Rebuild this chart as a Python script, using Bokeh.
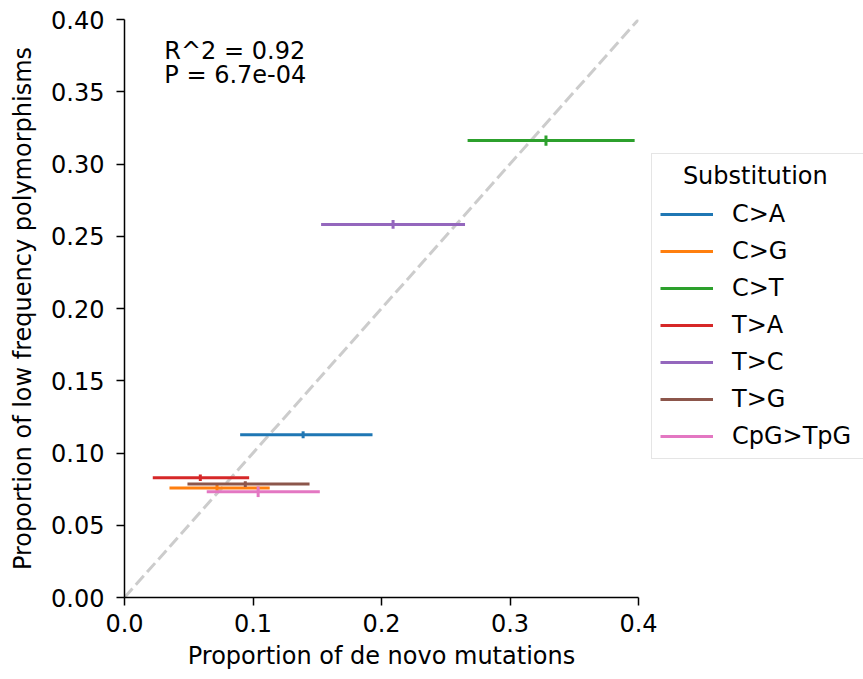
from bokeh.plotting import figure
from bokeh.models import Range1d, Legend, LegendItem, Label, FixedTicker
from bokeh.embed import file_html
from bokeh.resources import INLINE

# ---- data ----
substitutions = ["C>A", "C>G", "C>T", "T>A", "T>C", "T>G", "CpG>TpG"]
colors = ["#1f77b4", "#ff7f0e", "#2ca02c", "#d62728", "#9467bd", "#8c564b", "#e377c2"]
denovo = [0.139, 0.072, 0.328, 0.059, 0.209, 0.094, 0.104]
denovo_lo = [0.090, 0.035, 0.267, 0.022, 0.153, 0.049, 0.064]
denovo_hi = [0.193, 0.113, 0.397, 0.097, 0.265, 0.144, 0.152]
lowfreq = [0.1126, 0.0758, 0.3162, 0.0829, 0.2582, 0.0785, 0.0732]
lowfreq_err = [0.0024, 0.0020, 0.0035, 0.0023, 0.0030, 0.0020, 0.0037]
x_ticks = [0.0, 0.1, 0.2, 0.3, 0.4]
y_ticks = [0.0, 0.05, 0.10, 0.15, 0.20, 0.25, 0.30, 0.35, 0.40]
r2_text = "R^2 = 0.92"
p_text = "P = 6.7e-04"
legend_title = "Substitution"

FONT = "DejaVu Sans"
FS = "24px"

p = figure(frame_width=514, frame_height=578,
           min_border_left=124, min_border_right=225,
           min_border_top=19, min_border_bottom=82,
           output_backend="svg", toolbar_location=None,
           x_range=Range1d(0, 0.4), y_range=Range1d(0, 0.4))
p.outline_line_color = None
p.xgrid.visible = False
p.ygrid.visible = False
p.background_fill_color = "white"
p.border_fill_color = "white"

# diagonal reference line
p.line([0, 0.4], [0, 0.4], line_color="#cccccc", line_width=3, line_dash="12 5")

items = []
for i, name in enumerate(substitutions):
    r = p.segment(x0=[denovo_lo[i]], y0=[lowfreq[i]], x1=[denovo_hi[i]], y1=[lowfreq[i]],
                  line_color=colors[i], line_width=3)
    p.segment(x0=[denovo[i]], y0=[lowfreq[i] - lowfreq_err[i]],
              x1=[denovo[i]], y1=[lowfreq[i] + lowfreq_err[i]],
              line_color=colors[i], line_width=3)
    items.append(LegendItem(label=name, renderers=[r]))

for ax in (p.xaxis[0], p.yaxis[0]):
    ax.axis_line_width = 1.5
    ax.axis_line_color = "black"
    ax.major_tick_line_width = 1.5
    ax.major_tick_line_color = "black"
    ax.major_tick_out = 8
    ax.major_tick_in = 0
    ax.minor_tick_line_color = None
    ax.major_label_text_font = FONT
    ax.major_label_text_font_size = FS
    ax.major_label_text_color = "black"
    ax.axis_label_text_font = FONT
    ax.axis_label_text_font_size = FS
    ax.axis_label_text_font_style = "normal"
    ax.axis_label_text_color = "black"

p.xaxis.ticker = FixedTicker(ticks=x_ticks)
p.yaxis.ticker = FixedTicker(ticks=y_ticks)
p.xaxis.major_label_overrides = {t: f"{t:.1f}" for t in x_ticks}
p.yaxis.major_label_overrides = {t: f"{t:.2f}" for t in y_ticks}
p.xaxis.axis_label = "Proportion of de novo mutations"
p.yaxis.axis_label = "Proportion of low frequency polymorphisms"
p.xaxis.major_label_standoff = 8
p.yaxis.major_label_standoff = 12
p.xaxis.axis_label_standoff = 7
p.yaxis.axis_label_standoff = 11

p.add_layout(Label(x=0.031, y=0.3781, text=r2_text, text_font=FONT, text_font_size=FS,
                   text_baseline="alphabetic", text_color="black"))
p.add_layout(Label(x=0.031, y=0.3613, text=p_text, text_font=FONT, text_font_size=FS,
                   text_baseline="alphabetic", text_color="black"))

legend = Legend(items=items, location=(13, 138), title="\u00a0\u00a0\u00a0" + legend_title,
                title_text_font=FONT, title_text_font_size=FS, title_text_font_style="normal",
                title_text_color="black", title_standoff=10,
                label_text_font=FONT, label_text_font_size=FS, label_text_color="black",
                glyph_width=53, glyph_height=28, label_height=28, label_width=127,
                label_standoff=19, spacing=9, padding=8, margin=0,
                border_line_color="#cccccc", border_line_width=1.5,
                background_fill_color="white", background_fill_alpha=0.8)
p.add_layout(legend, "right")

open("out.html", "w").write(file_html(p, INLINE))
